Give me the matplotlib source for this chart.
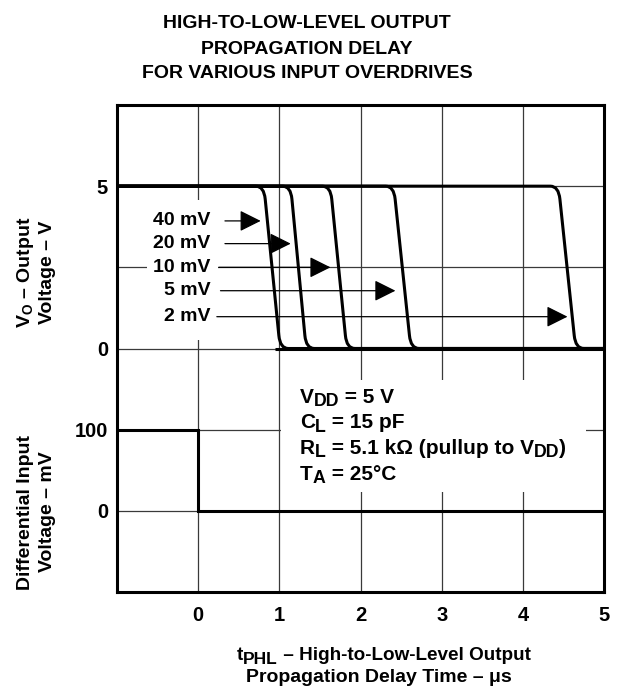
"""
High-to-low-level output propagation delay for various input overdrives.
"""
import numpy as np
import matplotlib
matplotlib.use("Agg")
import matplotlib.pyplot as plt
from matplotlib.path import Path
from matplotlib.patches import PathPatch, Rectangle

# --- data ---
overdrive_labels = ['40 mV', '20 mV', '10 mV', '5 mV', '2 mV']
fall_start_us = [0.81, 1.14, 1.63, 2.41, 4.44]   # slant meets 5 V
fall_end_us = [1.01, 1.33, 1.83, 2.62, 4.65]     # slant meets 0 V
output_high_v = 5
output_low_v = 0
output_low_start_us = 0.95

arrow_level_v = [3.93, 3.23, 2.5, 1.78, 0.98]
arrow_tail_us = [0.33, 0.33, 0.255, 0.275, 0.23]
arrow_tip_us = [0.77, 1.14, 1.63, 2.43, 4.55]

input_t_us = [-1, 0, 0, 5]
input_mv = [100, 100, 0, 0]

x_ticks = [0, 1, 2, 3, 4, 5]
y_tick_pos = [1, 2, 3, 5]
y_tick_labels = ['0', '100', '0', '5']

# (text, is_subscript) pieces
conditions = [
    [('V', False), ('DD', True), (' = 5 V', False)],
    [('C', False), ('L', True), (' = 15 pF', False)],
    [('R', False), ('L', True), (' = 5.1 kΩ (pullup to V', False),
     ('DD', True), (')', False)],
    [('T', False), ('A', True), (' = 25°C', False)],
]
xlabel_line1 = [('t', False), ('PHL', True),
                (' – High-to-Low-Level Output', False)]
xlabel_line2 = 'Propagation Delay Time – μs'
title_lines = ['HIGH-TO-LOW-LEVEL OUTPUT', 'PROPAGATION DELAY',
               'FOR VARIOUS INPUT OVERDRIVES']

# --- style ---
plt.rcParams['font.family'] = 'Liberation Sans'
plt.rcParams['font.weight'] = 'bold'
plt.rcParams['mathtext.fontset'] = 'custom'
plt.rcParams['mathtext.rm'] = 'Liberation Sans:bold'
plt.rcParams['mathtext.it'] = 'Liberation Sans:bold'
plt.rcParams['mathtext.bf'] = 'Liberation Sans:bold'
plt.rcParams['mathtext.sf'] = 'Liberation Sans:bold'

W, H = 618, 692
LW = 2.2
GRID_C = '#3a3a3a'


def px(xp, yp):
    """pixel position (from top-left) -> figure fraction"""
    return xp / W, 1 - yp / H


def v_to_grid(v):
    # 0 V on grid line 3, 5 V on grid line 5
    return 3 + np.asarray(v, dtype=float) * 2 / 5


def mv_to_grid(mv):
    # 0 mV on grid line 1, 100 mV on grid line 2
    return 1 + np.asarray(mv, dtype=float) / 100


def rich_text(ax, x_px, y_px, parts, size, sub_scale=0.85, sub_drop=2.4):
    """draw text pieces one after another on a common baseline"""
    fx, fy = px(x_px, y_px)
    prev = None
    for text, sub in parts:
        fs = size * sub_scale if sub else size
        dy = -sub_drop if sub else 0
        if prev is None:
            xy, coords = (fx, fy), 'figure fraction'
        else:
            xy, coords = (1, fy), (prev, 'figure fraction')
        prev = ax.annotate(text, xy=xy, xycoords=coords, xytext=(0, dy),
                           textcoords='offset points', ha='left',
                           va='baseline', fontsize=fs, fontweight='bold',
                           annotation_clip=False)
    return prev


fig = plt.figure(figsize=(W / 100, H / 100), dpi=100)
ax = fig.add_axes([117 / W, (H - 592) / H, (604 - 117) / W, (592 - 105) / H])
ax.set_xlim(-1, 5)
ax.set_ylim(0, 6)

# grid
for gx in range(0, 5):
    ax.axvline(gx, color=GRID_C, lw=0.9, zorder=1)
for gy in range(1, 6):
    ax.axhline(gy, color=GRID_C, lw=0.9, zorder=1)

# white masks where the grid is broken for the labels
ax.add_patch(Rectangle((-0.63, 3.10), 0.88, 1.73, facecolor='white',
                       edgecolor='none', zorder=1.5))
ax.add_patch(Rectangle((1.02, 1.23), 3.76, 1.38, facecolor='white',
                       edgecolor='none', zorder=1.5))

# output curves with rounded corners
r_x = 0.1
r_v = 0.4
for x_top, x_bot in zip(fall_start_us, fall_end_us):
    k = (x_bot - x_top) / (output_high_v - output_low_v)
    pts = [(-1, output_high_v),
           (x_top - r_x, output_high_v),
           (x_top, output_high_v),
           (x_top + k * r_v, output_high_v - r_v),
           (x_bot - k * r_v, output_low_v + r_v),
           (x_bot, output_low_v),
           (x_bot + r_x, output_low_v),
           (5, output_low_v)]
    xs = [p[0] for p in pts]
    ys = v_to_grid([p[1] for p in pts])
    codes = [Path.MOVETO, Path.LINETO, Path.CURVE3, Path.CURVE3,
             Path.LINETO, Path.CURVE3, Path.CURVE3, Path.LINETO]
    path = Path(np.column_stack([xs, ys]), codes)
    ax.add_patch(PathPatch(path, fill=False, lw=LW, edgecolor='black',
                           capstyle='butt', joinstyle='round', zorder=3))

ax.plot([output_low_start_us, 5], v_to_grid([output_low_v, output_low_v]),
        color='black', lw=LW, solid_capstyle='butt', zorder=3)

# input step
ax.plot(input_t_us, mv_to_grid(input_mv), color='black', lw=LW,
        solid_joinstyle='miter', zorder=3)

# overdrive arrows
for lab, lv, tail, tip in zip(overdrive_labels, arrow_level_v,
                              arrow_tail_us, arrow_tip_us):
    yv = float(v_to_grid(lv))
    ax.annotate('', xy=(tip, yv), xytext=(tail, yv),
                arrowprops=dict(arrowstyle='-|>,head_length=1.3,head_width=0.65',
                                mutation_scale=10, lw=0.9, color='black',
                                shrinkA=0, shrinkB=0), zorder=4)
    ax.text(0.15, yv, lab, ha='right', va='center', fontsize=14,
            fontweight='bold', zorder=4)

# test conditions block
for i, parts in enumerate(conditions):
    rich_text(ax, 300, 403 + 25.5 * i, parts, 15)

# axes styling
for s in ax.spines.values():
    s.set_linewidth(LW)
    s.set_zorder(5)
ax.set_xticks(x_ticks)
ax.set_xticklabels([str(t) for t in x_ticks])
ax.set_yticks(y_tick_pos)
ax.set_yticklabels(y_tick_labels)
ax.tick_params(axis='both', length=0, labelsize=14.5)
ax.tick_params(axis='x', pad=10)
ax.tick_params(axis='y', pad=6.5)
for t in ax.get_xticklabels() + ax.get_yticklabels():
    t.set_fontweight('bold')

# title
for i, line in enumerate(title_lines):
    fx, fy = px(307, 28.5 + 25 * i)
    fig.text(fx, fy, line, ha='center', va='baseline', fontsize=14,
             fontweight='bold')

# x label
rich_text(ax, 237, 660, xlabel_line1, 13.6, sub_scale=0.92, sub_drop=3)
fx, fy = px(379, 682)
fig.text(fx, fy, xlabel_line2, ha='center', va='baseline', fontsize=14,
         fontweight='bold')

# y labels
for xp, yp, line in [(26, 272, '$V_{O}$ – Output'), (48, 272, 'Voltage – V'),
                     (26, 512, 'Differential Input'), (48, 512, 'Voltage – mV')]:
    fx, fy = px(xp, yp)
    fig.text(fx, fy, line, ha='center', va='center', rotation=90,
             fontsize=14, fontweight='bold')

fig.savefig('out.png', dpi=100)
plt.close(fig)
